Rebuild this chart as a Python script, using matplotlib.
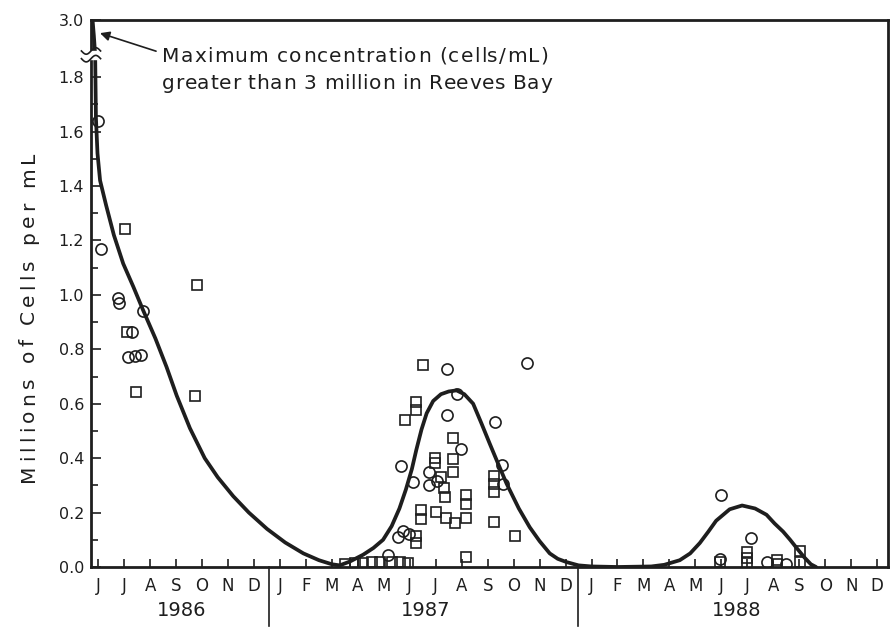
import numpy as np
import matplotlib
matplotlib.use("Agg")
import matplotlib.pyplot as plt
from matplotlib.transforms import blended_transform_factory

# ---------------- data (x = months after June 1986, June 1986 = 0) ----------------
month_labels = list("JJASOND") + list("JFMAMJJASOND") + list("JFMAMJJASOND")
year_labels = ["1986", "1987", "1988"]
year_label_pos = [3.2, 12.6, 24.6]
year_dividers = [6.57, 18.48]

circle_x = [0.0, 0.09, 0.77, 0.81, 1.73, 1.29, 1.16, 1.42, 1.64,
            13.44, 16.5, 13.8, 13.44, 15.29, 13.97, 11.68, 15.55, 12.73, 12.13,
            12.73, 13.05, 15.6, 11.53, 11.74, 11.98, 11.17,
            23.97, 25.13, 23.94, 25.74, 26.51]
circle_y = [1.64, 1.17, 0.99, 0.97, 0.94, 0.865, 0.77, 0.775, 0.78,
            0.726, 0.751, 0.637, 0.559, 0.532, 0.434, 0.37, 0.373, 0.349, 0.312,
            0.302, 0.316, 0.306, 0.112, 0.133, 0.121, 0.044,
            0.263, 0.106, 0.03, 0.02, 0.012]

square_x = [1.03, 3.81, 1.09, 1.45, 3.72,
            12.52, 12.22, 12.22, 11.81, 13.65, 12.97, 12.97, 13.65, 13.65, 13.22,
            13.3, 13.35, 15.24, 15.24, 15.24, 14.16, 14.16, 12.43, 12.43, 13.0,
            13.38, 13.75, 14.16, 15.24, 16.05, 12.22, 12.22, 14.16,
            9.5, 9.88, 10.2, 10.55, 10.85, 11.31, 11.62, 11.93,
            23.94, 24.97, 24.97, 24.97, 26.15, 26.15, 27.02, 27.02]
square_y = [1.243, 1.035, 0.863, 0.643, 0.63,
            0.744, 0.608, 0.578, 0.541, 0.475, 0.401, 0.382, 0.398, 0.349, 0.33,
            0.289, 0.257, 0.336, 0.305, 0.274, 0.266, 0.231, 0.21, 0.176, 0.203,
            0.181, 0.161, 0.181, 0.166, 0.113, 0.113, 0.088, 0.038,
            0.012, 0.014, 0.016, 0.018, 0.018, 0.018, 0.018, 0.016,
            0.018, 0.054, 0.034, 0.014, 0.027, 0.012, 0.058, 0.018]

curve_x = [-0.22, -0.17, -0.12, -0.09, -0.03, 0.07, 0.3, 0.6, 0.96, 1.35, 1.73,
           2.2, 2.63, 3.02, 3.53, 4.1, 4.6, 5.2, 5.8, 6.5, 7.2, 7.9, 8.5, 9.0, 9.3,
           9.69, 10.2, 10.6, 10.97, 11.3, 11.6, 11.85, 12.08, 12.25, 12.45, 12.65,
           12.9, 13.2, 13.5, 13.8, 14.1, 14.44, 14.75, 15.08, 15.4, 15.73, 16.2,
           16.62, 17.0, 17.39, 17.7, 18.04, 18.5, 19.0, 20.0, 21.3, 21.8, 22.4,
           22.8, 23.17, 23.5, 23.8, 24.32, 24.8, 25.3, 25.74, 26.05, 26.38, 26.65,
           26.9, 27.2, 27.45, 27.65]
curve_y = [3.0, 2.5, 1.9, 1.65, 1.52, 1.42, 1.33, 1.22, 1.115, 1.03, 0.943,
           0.84, 0.735, 0.63, 0.51, 0.40, 0.33, 0.26, 0.20, 0.14, 0.09, 0.05, 0.025, 0.01, 0.006,
           0.02, 0.045, 0.07, 0.10, 0.15, 0.215, 0.285, 0.36, 0.43, 0.505, 0.565,
           0.61, 0.635, 0.645, 0.649, 0.635, 0.60, 0.53, 0.453, 0.38, 0.306, 0.215,
           0.146, 0.095, 0.05, 0.03, 0.018, 0.006, 0.002, 0.0, 0.002, 0.008, 0.025,
           0.05, 0.088, 0.13, 0.17, 0.212, 0.226, 0.215, 0.192, 0.16, 0.13, 0.10,
           0.07, 0.035, 0.01, 0.0]

y_major = [0.0, 0.2, 0.4, 0.6, 0.8, 1.0, 1.2, 1.4, 1.6, 1.8, 3.0]
y_major_labels = ["0.0", "0.2", "0.4", "0.6", "0.8", "1.0", "1.2", "1.4", "1.6", "1.8", "3.0"]
y_minor = [0.1, 0.3, 0.5, 0.7, 0.9, 1.1, 1.3, 1.5, 1.7]

y_title = "Millions of Cells per mL"
note_lines = ["Maximum concentration (cells/mL)", "greater than 3 million in Reeves Bay"]

# ---------------- broken y scale ----------------
BREAK = 1.88
COMP = 0.13 / 1.12


def fwd(y):
    y = np.asarray(y, dtype=float)
    return np.where(y <= BREAK, y, BREAK + (y - BREAK) * COMP)


def inv(y):
    y = np.asarray(y, dtype=float)
    return np.where(y <= BREAK, y, BREAK + (y - BREAK) / COMP)


INK = "#1e1e1e"
plt.rcParams["font.family"] = ["DejaVu Sans"]

W, H = 896, 629
fig = plt.figure(figsize=(W / 100, H / 100), dpi=100)
renderer = fig.canvas.get_renderer()


def text_width(s, size):
    t = fig.text(0, 0, s + "|", fontsize=size)
    w = t.get_window_extent(renderer).width
    t.remove()
    t = fig.text(0, 0, "|", fontsize=size)
    w -= t.get_window_extent(renderer).width
    t.remove()
    return w


def tracked_text(s, x0, y0, length, size, vertical=False):
    """Draw s with letter spacing so it spans `length` pixels, starting at display (x0, y0)."""
    natural = text_width(s, size)
    track = (length - natural) / max(len(s) - 1, 1)
    for i, ch in enumerate(s):
        if ch == " ":
            continue
        off = text_width(s[:i], size) + i * track if i else 0.0
        if vertical:
            fig.text((x0) / W, (y0 + off) / H, ch, fontsize=size, color=INK, rotation=90,
                     rotation_mode="anchor", ha="left", va="baseline")
        else:
            fig.text((x0 + off) / W, y0 / H, ch, fontsize=size, color=INK,
                     ha="left", va="baseline")


ax = fig.add_axes([91 / W, 1 - 567 / H, 797 / W, 547 / H])
ax.set_yscale("function", functions=(fwd, inv))
ax.set_ylim(0, 3.0)
ax.set_xlim(-0.28, 30.42)

ax.plot(circle_x, circle_y, "o", ms=8, mfc="none", mec=INK, mew=1.2, zorder=3)
ax.plot(square_x, square_y, "s", ms=7, mfc="none", mec=INK, mew=1.2, zorder=3)
ax.plot(curve_x, curve_y, "-", color=INK, lw=2.7, zorder=4, solid_joinstyle="round",
        solid_capstyle="round")

for s in ax.spines.values():
    s.set_linewidth(2.0)
    s.set_color(INK)

ax.set_xticks(range(len(month_labels)))
ax.set_xticklabels(month_labels, fontsize=12, color=INK)
ax.set_yticks(y_major)
ax.set_yticklabels(y_major_labels, fontsize=11.5, color=INK)
ax.set_yticks(y_minor, minor=True)
ax.tick_params(axis="x", direction="in", length=6, width=1.2, pad=7, colors=INK)
ax.tick_params(axis="y", which="major", direction="in", length=7, width=1.2, pad=5, colors=INK)
ax.tick_params(axis="y", which="minor", direction="in", length=5, width=1.2, colors=INK)
ax.tick_params(axis="x", which="minor", bottom=False)

# y-axis title, letter-spaced like the original lettering
tracked_text(y_title, 34, H - 482, 330, 14.5, vertical=True)

# year dividers and labels
bt = blended_transform_factory(ax.transData, ax.transAxes)
for d in year_dividers:
    ax.plot([d, d], [0, -0.107], color=INK, lw=1.2, transform=bt, clip_on=False)
for lab, xp in zip(year_labels, year_label_pos):
    ax.text(xp, -0.079, lab, transform=bt, ha="center", va="center", fontsize=14, color=INK)

# axis break symbol on the left spine
bt2 = blended_transform_factory(ax.transAxes, ax.transData)
ax.fill_between([-0.008, 0.008], [1.868, 1.868], [2.02, 2.02], color="white",
                transform=bt2, clip_on=False, zorder=5)
wx = np.linspace(-0.012, 0.012, 20)
for yb in (1.868, 2.02):
    wy = fwd(yb) + 0.012 * np.sin((wx / 0.012) * np.pi)
    ax.plot(wx, inv(wy), color=INK, lw=1.2, transform=bt2, clip_on=False, zorder=6)

# annotation
tracked_text(note_lines[0], 162, H - 62, 386, 14.5)
tracked_text(note_lines[1], 162, H - 89, 390, 14.5)
ax.annotate("", xy=(0.0113, 0.976), xytext=(0.0816, 0.943), xycoords="axes fraction",
            textcoords="axes fraction",
            arrowprops=dict(arrowstyle="-|>", color=INK, lw=1.2, mutation_scale=14,
                            shrinkA=0, shrinkB=0))

fig.savefig("out.png", dpi=100, facecolor="white")
